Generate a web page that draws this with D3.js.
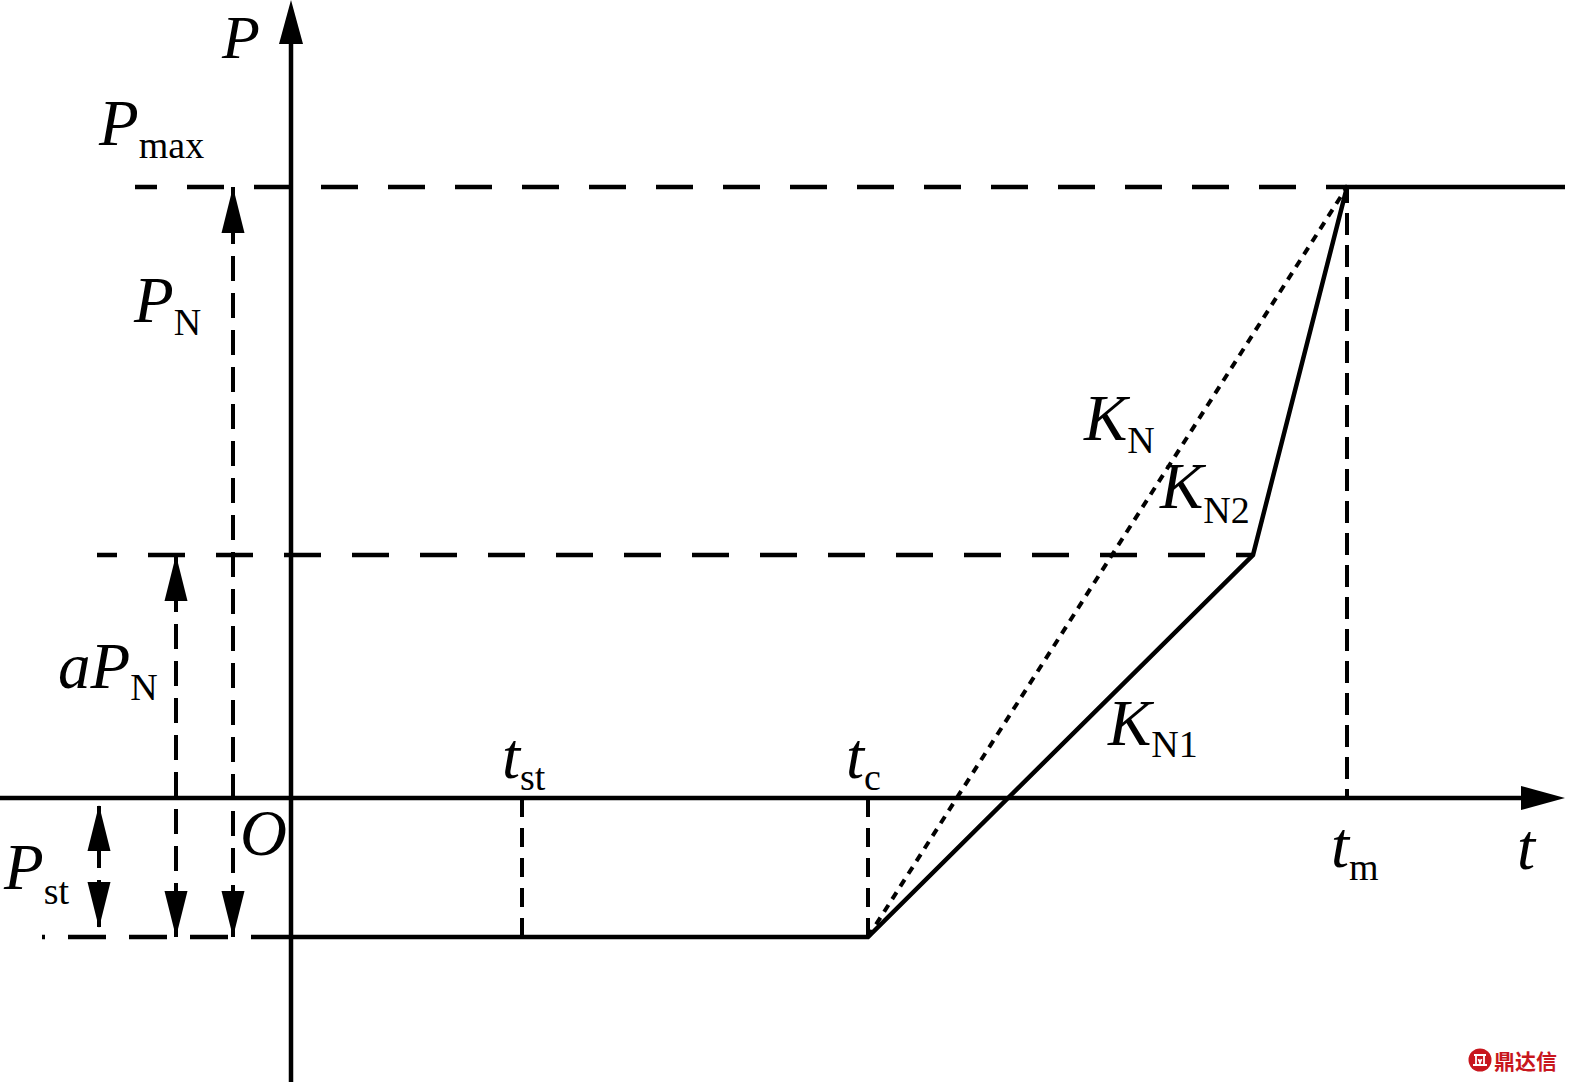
<!DOCTYPE html>
<html><head><meta charset="utf-8">
<script src="https://cdn.jsdelivr.net/npm/d3@7"></script>
<style>
html,body{margin:0;padding:0;background:#fff;} svg{display:block}
text, tspan { font-family: "Liberation Serif", "Times New Roman", Times, "DejaVu Serif", serif; }
text.wm { font-family: "Noto Sans CJK SC", sans-serif; }
</style>
</head><body>
<script>
// ---- data (schematic values, P and t in arbitrary units) ----
const levelNames  = ["Pst", "aPN", "Pmax"];
const levelValues = [-1.39, 2.43, 6.11];
const timeNames   = ["tst", "tc", "tm"];
const timeValues  = [2.31, 5.77, 10.56];
const curveT = [-0.38, 5.77, 9.62, 10.56, 12.74];   // power ramp (solid)
const curveP = [-1.39, -1.39, 2.43, 6.11, 6.11];
const kNT = [5.77, 10.56];                          // K_N straight ramp (dotted)
const kNP = [-1.39, 6.11];
const axisT = [-2.91, 12.74];
const axisP = [-2.84, 7.98];
const guideStartT = [-2.49, -1.94, -1.56];          // left ends of the level guides
const arrowT = [-1.92, -1.15, -0.58];               // Pst, aPN, PN dimension arrows

const W = 1574, H = 1088;
const x = d3.scaleLinear().domain([0, 10]).range([291, 1291]);
const y = d3.scaleLinear().domain([0, 10]).range([798, -202]);

const svg = d3.select("body").append("svg").attr("width", W).attr("height", H);

const [Pst, aPN, Pmax] = levelValues;
const [tst, tc, tm] = timeValues;

function line(x1, y1, x2, y2, width, dash, offset) {
  const l = svg.append("line")
    .attr("x1", x1).attr("y1", y1).attr("x2", x2).attr("y2", y2)
    .attr("stroke", "#000").attr("stroke-width", width);
  if (dash) l.attr("stroke-dasharray", dash);
  if (offset) l.attr("stroke-dashoffset", offset);
  return l;
}
function head(tx, ty, dir, len = 46, hw = 11.5) {
  let pts;
  if (dir === "up") pts = [[tx, ty], [tx - hw, ty + len], [tx + hw, ty + len]];
  else if (dir === "down") pts = [[tx, ty], [tx - hw, ty - len], [tx + hw, ty - len]];
  else pts = [[tx, ty], [tx - len, ty - hw], [tx - len, ty + hw]];
  svg.append("path").attr("d", d3.line()(pts) + "Z").attr("fill", "#000");
}

// ---- axes ----
line(x(axisT[0]), y(0), x(axisT[1]) - 40, y(0), 4.5);
head(x(axisT[1]), y(0), "right", 44, 12);
line(x(0), y(axisP[0]), x(0), y(axisP[1]) + 40, 4.5);
head(x(0), y(axisP[1]), "up", 44, 12);

// ---- horizontal level guides (dashed) ----
line(x(guideStartT[0]), y(Pst), x(curveT[0]), y(Pst), 4.5, "38,23", 35);
line(x(guideStartT[1]), y(aPN), x(curveT[2]), y(aPN), 4.5, "37,31", 17);
line(x(guideStartT[2]), y(Pmax), x(tm), y(Pmax), 4.5, "37,30", 15);

// ---- vertical time guides (dashed) ----
line(x(tst), y(0), x(tst), y(Pst), 4, "19,11");
line(x(tc), y(0), x(tc), y(Pst), 4, "19,11");
line(x(tm), y(Pmax), x(tm), y(0), 4, "22,10", 6);

// ---- dimension arrows ----
line(x(arrowT[0]), y(0) + 8, x(arrowT[0]), y(Pst) - 10, 4, "25,12");
head(x(arrowT[0]), y(0) + 7, "up");
head(x(arrowT[0]), y(Pst) - 9, "down");
line(x(arrowT[1]), y(aPN), x(arrowT[1]), y(Pst), 4, "25,12", 5);
head(x(arrowT[1]), y(aPN), "up");
head(x(arrowT[1]), y(Pst), "down");
line(x(arrowT[2]), y(Pmax), x(arrowT[2]), y(Pst), 4, "25,12", 5);
head(x(arrowT[2]), y(Pmax), "up");
head(x(arrowT[2]), y(Pst), "down");

// ---- K_N dotted ramp ----
svg.append("path")
  .attr("d", d3.line().x(d => x(d[0])).y(d => y(d[1]))(kNT.map((t, i) => [t, kNP[i]])))
  .attr("fill", "none").attr("stroke", "#000").attr("stroke-width", 4)
  .attr("stroke-dasharray", "8,7");

// ---- power curve (solid) ----
svg.append("path")
  .attr("d", d3.line().x(d => x(d[0])).y(d => y(d[1]))(curveT.map((t, i) => [t, curveP[i]])))
  .attr("fill", "none").attr("stroke", "#000").attr("stroke-width", 4.5)
  .attr("stroke-linejoin", "miter");

// ---- labels ----
function label(px, py, main, sub, subDy = 13, mainSize = 65, subSize = 38) {
  const t = svg.append("text").attr("x", px).attr("y", py).attr("fill", "#000");
  t.append("tspan").attr("font-style", "italic").attr("font-size", mainSize).text(main);
  if (sub) t.append("tspan").attr("font-size", subSize).attr("dy", subDy).text(sub);
}
label(222, 58, "P", null, 0, 62);
label(99, 145, "P", "max");
label(134, 322, "P", "N");
label(58, 688, "aP", "N", 12);
label(4, 889, "P", "st", 15);
label(240, 855, "O");
label(502, 778, "t", "st", 12);
label(846, 778, "t", "c", 12);
label(1331, 867, "t", "m", 13);
label(1517, 869, "t");
label(1084, 440, "K", "N", 13);
label(1160, 508, "K", "N2", 15);
label(1108, 745, "K", "N1", 12);

// ---- watermark ----
const wm = svg.append("g").attr("transform", "translate(1480,1060)");
wm.append("circle").attr("r", 11.5).attr("fill", "#c8161d");
wm.append("path").attr("d", "M-6,-5 H6 M-4,-5 V5 M4,-5 V5 M-7,5 H7 M-1.5,-1 L0,3 L1.5,-1")
  .attr("stroke", "#fff").attr("stroke-width", 1.8).attr("fill", "none");
svg.append("text").attr("class", "wm").attr("x", 1494).attr("y", 1069)
  .attr("font-weight", "bold").attr("font-size", 21).attr("fill", "#c8161d").text("鼎达信");
</script>
</body></html>
